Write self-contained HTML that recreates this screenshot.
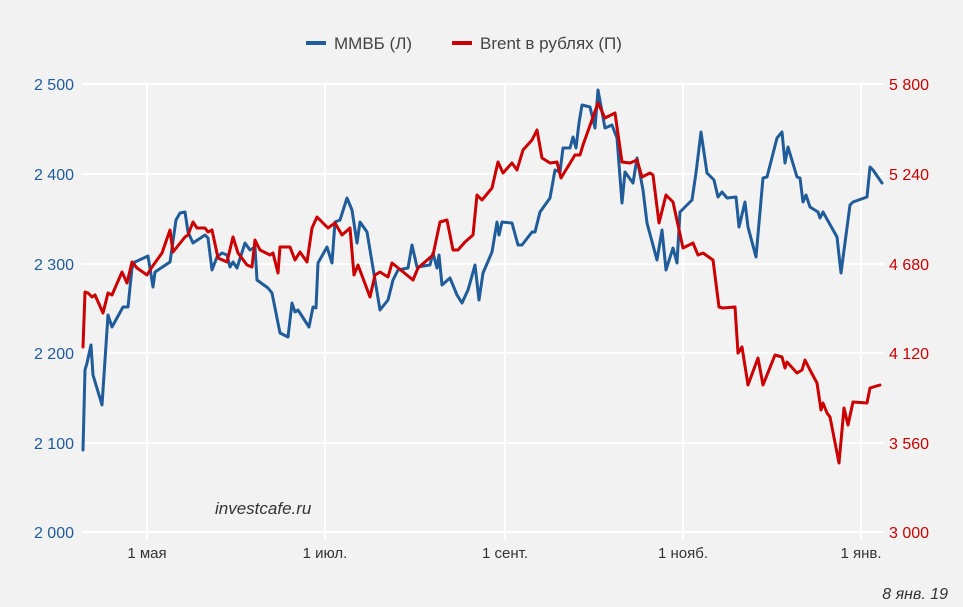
<!DOCTYPE html>
<html><head><meta charset="utf-8"><style>
html,body{margin:0;padding:0;background:#f2f2f2;}
svg{display:block;font-family:"Liberation Sans",sans-serif;}
</style></head><body>
<svg width="963" height="607" viewBox="0 0 963 607" xmlns="http://www.w3.org/2000/svg">
<rect width="963" height="607" fill="#f2f2f2"/>
<g stroke="#ffffff" stroke-width="2">
<line x1="82" y1="84" x2="884" y2="84"/>
<line x1="82" y1="174" x2="884" y2="174"/>
<line x1="82" y1="264" x2="884" y2="264"/>
<line x1="82" y1="353" x2="884" y2="353"/>
<line x1="82" y1="443" x2="884" y2="443"/>
<line x1="82" y1="532" x2="884" y2="532"/>
<line x1="147" y1="84" x2="147" y2="540"/>
<line x1="325" y1="84" x2="325" y2="540"/>
<line x1="505" y1="84" x2="505" y2="540"/>
<line x1="683" y1="84" x2="683" y2="540"/>
<line x1="861" y1="84" x2="861" y2="540"/>
</g>
<g font-size="16" fill="#1f5c99" text-anchor="end">
<text x="74" y="90">2 500</text><text x="74" y="180">2 400</text><text x="74" y="270">2 300</text>
<text x="74" y="359">2 200</text><text x="74" y="449">2 100</text><text x="74" y="538">2 000</text>
</g>
<g font-size="16" fill="#cc0000" text-anchor="start">
<text x="889" y="90">5 800</text><text x="889" y="180">5 240</text><text x="889" y="270">4 680</text>
<text x="889" y="359">4 120</text><text x="889" y="449">3 560</text><text x="889" y="538">3 000</text>
</g>
<g font-size="15" fill="#333" text-anchor="middle">
<text x="147" y="558">1 мая</text><text x="325" y="558">1 июл.</text><text x="505" y="558">1 сент.</text>
<text x="683" y="558">1 нояб.</text><text x="861" y="558">1 янв.</text>
</g>
<text x="215" y="514" font-size="17" font-style="italic" fill="#333">investcafe.ru</text>
<text x="948" y="599" font-size="16" font-style="italic" fill="#333" text-anchor="end">8 янв. 19</text>
<g font-size="17" fill="#444">
<line x1="306" y1="43" x2="326" y2="43" stroke="#1f5c99" stroke-width="4"/>
<text x="334" y="49">ММВБ (Л)</text>
<line x1="452" y1="43" x2="472" y2="43" stroke="#cc0000" stroke-width="4"/>
<text x="480" y="49">Brent в рублях (П)</text>
</g>
<polyline fill="none" stroke="#1f5c99" stroke-width="3" stroke-linejoin="round" stroke-linecap="round" points="83,450 85,370 87,363 91,345 93,375 102,405 108,315 112,327 123,307 128,307 132,268 135,262 148,256 153,287 155,272 170,262 176,220 180,213 185,212 188,232 193,243 205,235 208,238 212,270 217,257 222,253 227,255 230,267 233,262 237,268 245,243 250,250 255,247 257,280 268,288 272,293 280,333 288,337 292,303 295,312 298,310 309,327 313,307 316,308 318,263 327,247 332,263 335,222 340,220 347,198 352,210 357,243 360,222 367,232 380,310 388,300 393,280 398,270 408,268 412,245 417,267 430,265 433,253 437,268 439,255 442,285 450,278 457,295 462,303 468,290 475,265 479,300 483,273 492,252 497,222 499,235 502,222 512,223 518,245 522,245 532,232 535,232 540,212 550,198 555,170 560,172 563,148 570,148 573,137 576,148 579,123 582,105 590,107 595,128 598,90 605,128 612,125 617,138 622,203 625,172 633,183 637,158 643,190 647,223 657,260 662,230 666,270 673,248 677,263 680,212 692,200 696,173 701,132 707,173 714,180 718,197 722,192 727,198 736,197 739,227 745,202 748,227 756,257 763,178 767,177 777,138 782,132 785,163 788,147 797,177 800,178 803,202 806,195 810,207 818,212 820,218 823,212 837,237 841,273 850,205 853,202 867,197 870,167 873,170 882,183"/>
<polyline fill="none" stroke="#cc0000" stroke-width="3" stroke-linejoin="round" stroke-linecap="round" points="83,347 85,292 88,293 92,297 95,295 103,313 108,293 112,295 122,272 127,283 132,262 137,268 147,275 152,267 162,253 170,230 173,252 185,237 188,235 193,222 197,228 205,228 208,232 212,230 218,258 227,262 233,237 238,253 247,265 252,267 255,240 260,250 270,255 273,253 278,273 280,247 290,247 295,260 300,252 307,262 312,228 317,217 323,223 328,228 335,223 342,235 350,228 354,275 358,265 370,297 375,275 380,272 388,277 392,263 397,267 413,280 418,268 433,255 440,222 447,220 453,250 458,250 465,242 473,235 477,195 482,200 492,188 498,162 503,173 512,163 517,170 523,150 532,140 537,130 542,158 550,163 557,162 561,178 575,155 580,155 583,145 598,103 605,118 615,113 622,162 630,163 637,160 642,177 650,173 653,175 659,223 666,195 673,202 683,248 693,243 698,255 703,253 713,260 719,307 723,308 735,307 738,353 742,347 748,385 758,358 763,385 775,355 782,357 785,368 787,362 797,373 802,370 805,360 810,370 817,383 821,410 823,403 827,413 830,417 839,463 844,408 848,425 853,402 867,403 870,388 880,385"/>
</svg>
</body></html>
